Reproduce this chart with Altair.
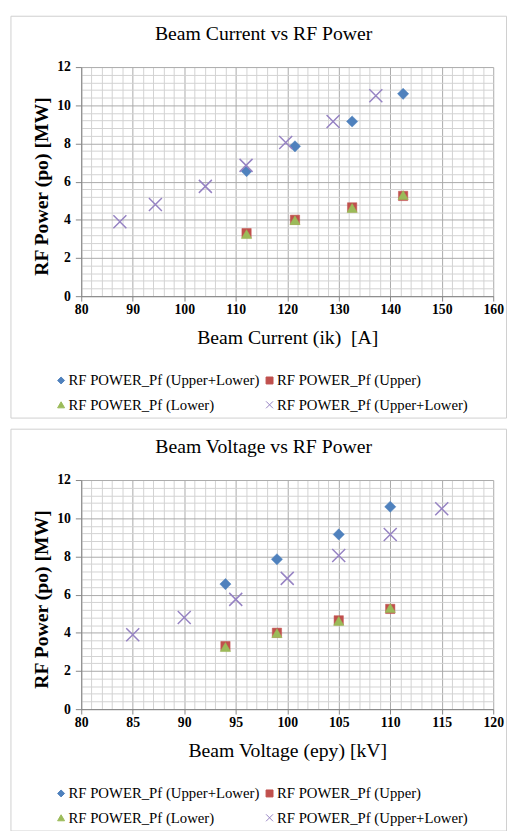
import altair as alt
import pandas as pd

SERIF = "Liberation Serif"

SERIES_KEYS = ["s1", "s2", "s3", "s4"]
SERIES_LABELS = [
    "RF POWER_Pf (Upper+Lower)",
    "RF POWER_Pf (Upper)",
    "RF POWER_Pf (Lower)",
    "RF POWER_Pf (Upper+Lower)",
]
SERIES_COLORS = ["#4F81BD", "#C0504D", "#9BBB59", "#9683C3"]
SERIES_SHAPES = ["diamond", "square", "triangle-up", "M-1,-1L1,1M-1,1L1,-1"]
SERIES_SIZES = [130, 90, 110, 175]
SERIES_STROKES = [0.5, 0.5, 0.5, 1.5]

# ---- Panel 1: Beam Current vs RF Power ----
cur_x_ul = [112.1, 121.5, 132.6, 142.5]
cur_y_ul = [6.55, 7.85, 9.15, 10.6]
cur_x_u = [112.1, 121.5, 132.6, 142.5]
cur_y_u = [3.3, 4.0, 4.65, 5.25]
cur_x_l = [112.1, 121.5, 132.6, 142.5]
cur_y_l = [3.25, 3.98, 4.62, 5.3]
cur_x_ul2 = [87.5, 94.4, 104.1, 112.0, 119.7, 128.9, 137.2]
cur_y_ul2 = [3.9, 4.8, 5.75, 6.85, 8.05, 9.15, 10.5]

# ---- Panel 2: Beam Voltage vs RF Power ----
vol_x_ul = [94, 99, 105, 110]
vol_y_ul = [6.55, 7.85, 9.15, 10.6]
vol_x_u = [94, 99, 105, 110]
vol_y_u = [3.3, 4.0, 4.65, 5.25]
vol_x_l = [94, 99, 105, 110]
vol_y_l = [3.25, 3.98, 4.62, 5.3]
vol_x_ul2 = [85, 90, 95, 100, 105, 110, 115]
vol_y_ul2 = [3.9, 4.8, 5.75, 6.85, 8.05, 9.15, 10.5]

# axis ticks
y_major = [0, 2, 4, 6, 8, 10, 12]
y_minor = [round(i * 0.4, 1) for i in range(31) if i % 5 != 0]
cur_x_major = [80, 90, 100, 110, 120, 130, 140, 150, 160]
cur_x_minor = [v for v in range(80, 161, 2) if v % 10 != 0]
vol_x_major = [80, 85, 90, 95, 100, 105, 110, 115, 120]
vol_x_minor = [v for v in range(80, 121) if v % 5 != 0]

MINOR = "#d2d2d2"
MAJOR = "#a9a9a9"
AXC = "#868686"


def make_df(xs, ys):
    rows = []
    for key, xv, yv in zip(SERIES_KEYS, xs, ys):
        for a, b in zip(xv, yv):
            rows.append({"x": a, "y": b, "series": key})
    return pd.DataFrame(rows)


label_expr = ""
for k, lab in zip(SERIES_KEYS[:-1], SERIES_LABELS[:-1]):
    label_expr += f"datum.value === '{k}' ? '{lab}' : "
label_expr += f"'{SERIES_LABELS[-1]}'"


def panel(df, title, xtitle, xdom, xmaj, xmin):
    xs = alt.Scale(domain=xdom, nice=False, zero=False)
    ys = alt.Scale(domain=[0, 12], nice=False, zero=False)

    frame = alt.Chart(pd.DataFrame({"f": [0]})).mark_rect(
        fill="white", fillOpacity=0, stroke="#cfcfcf", strokeWidth=1
    ).encode(
        x=alt.value(-71.5), x2=alt.value(432.5),
        y=alt.value(-51.7), y2=alt.value(357),
    )

    minor = alt.Chart(df).mark_point(opacity=0).encode(
        x=alt.X("x:Q", scale=xs, axis=alt.Axis(
            orient="bottom", values=xmin, grid=True, gridColor=MINOR, gridWidth=1,
            labels=False, ticks=False, domain=False, title=None)),
        y=alt.Y("y:Q", scale=ys, axis=alt.Axis(
            orient="left", values=y_minor, grid=True, gridColor=MINOR, gridWidth=1,
            labels=False, ticks=False, domain=False, title=None)),
    )

    major = alt.Chart(df).mark_point(opacity=0).encode(
        x=alt.X("x:Q", scale=xs, axis=alt.Axis(
            orient="bottom", values=xmaj, format="d", grid=True, gridColor=MAJOR,
            labelFont=SERIF, labelFontSize=14, labelFontWeight="bold", labelColor="black",
            labelPadding=2, labelFlush=False, labelOverlap=False,
            tickSize=5, tickColor=AXC, domainColor=AXC,
            title=xtitle, titleFont=SERIF, titleFontSize=20, titleFontWeight="normal",
            titleColor="black", titlePadding=11)),
        y=alt.Y("y:Q", scale=ys, axis=alt.Axis(
            orient="left", values=y_major, format="d", grid=True, gridColor=MAJOR,
            labelFont=SERIF, labelFontSize=14, labelFontWeight="bold", labelColor="black",
            labelPadding=5, labelFlush=False, labelOverlap=False,
            tickSize=6, tickColor=AXC, domainColor=AXC,
            title="RF Power (po) [MW]", titleFont=SERIF, titleFontSize=20,
            titleFontWeight="bold", titleColor="black", titlePadding=5, titleY=121)),
    )

    leg = alt.Legend(
        title=None, orient="none", legendX=-28, legendY=311, columns=2,
        direction="horizontal",
        labelExpr=label_expr, labelFont=SERIF, labelFontSize=15, labelColor="black",
        labelLimit=400, labelOffset=0, symbolSize=50, symbolStrokeWidth=1,
        rowPadding=9, columnPadding=2, padding=0,
    )

    layers = []
    for key, size, sw in zip(SERIES_KEYS, SERIES_SIZES, SERIES_STROKES):
        layers.append(
            alt.Chart(df).transform_filter(alt.datum.series == key)
            .mark_point(filled=True, opacity=1, size=size, strokeWidth=sw)
            .encode(
                x=alt.X("x:Q", scale=xs, axis=None),
                y=alt.Y("y:Q", scale=ys, axis=None),
                fill=alt.Fill("series:N", scale=alt.Scale(domain=SERIES_KEYS, range=SERIES_COLORS), legend=leg),
                stroke=alt.Stroke("series:N", scale=alt.Scale(domain=SERIES_KEYS, range=SERIES_COLORS), legend=leg),
                shape=alt.Shape("series:N", scale=alt.Scale(domain=SERIES_KEYS, range=SERIES_SHAPES), legend=leg),
            )
        )

    return alt.layer(frame, minor, major, *layers).resolve_axis(
        x="independent", y="independent"
    ).properties(
        width=419, height=233,
        title=alt.TitleParams(
            text=title, font=SERIF, fontSize=20, fontWeight="normal", color="black",
            anchor="middle", frame="group", dx=-24, offset=-45, baseline="alphabetic",
        ),
    )


df_cur = make_df([cur_x_ul, cur_x_u, cur_x_l, cur_x_ul2], [cur_y_ul, cur_y_u, cur_y_l, cur_y_ul2])
df_vol = make_df([vol_x_ul, vol_x_u, vol_x_l, vol_x_ul2], [vol_y_ul, vol_y_u, vol_y_l, vol_y_ul2])

top = panel(df_cur, "Beam Current vs RF Power", "Beam Current (ik) \u00a0[A]", [80, 160], cur_x_major, cur_x_minor)
bottom = panel(df_vol, "Beam Voltage vs RF Power", "Beam Voltage (epy) [kV]", [80, 120], vol_x_major, vol_x_minor)

chart = alt.vconcat(top, bottom, spacing=9).resolve_scale(
    fill="independent", stroke="independent", shape="independent",
).properties(
    padding={"left": 2.5, "top": 0, "right": 0, "bottom": 0},
    background="white",
).configure_view(stroke=None)

chart.save("out.html", embed_options={"renderer": "svg", "actions": False})
